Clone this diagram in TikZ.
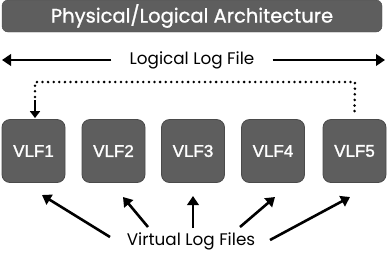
\documentclass[tikz,border=0pt]{standalone}
\usepackage{fontspec}
\setmainfont{Poppins}
\newfontfamily\boxfont[FakeBold=1.6]{Liberation Sans}
\newfontfamily\titlefont[FakeBold=1]{Poppins}
\usetikzlibrary{arrows.meta,calc}
\definecolor{boxgray}{HTML}{5E5E5E}
\definecolor{boxedge}{HTML}{4A4A4A}
\tikzset{
  vlfbox/.style={draw=boxedge,line width=0.8pt,fill=boxgray,rounded corners=8pt,
    minimum width=63pt,minimum height=63pt,inner sep=0pt,text=white,
    font=\boxfont\fontsize{17}{17}\selectfont},
  lbl/.style={font=\fontsize{16.8}{17}\selectfont,inner sep=0pt,text=black},
  arr/.style={line width=2.6pt,-{Triangle[length=9pt,width=11.5pt]}},
  dotline/.style={line width=2.8pt,line cap=round,dash pattern=on 0pt off 5.6pt}
}
\begin{document}
\begin{tikzpicture}[x=1pt,y=-1pt]
\useasboundingbox (0,0) rectangle (387,258);
% title bar
\node[draw=boxedge,fill=boxgray,rounded corners=6pt,minimum width=380pt,minimum height=32pt,
  inner sep=0pt,text=white,font=\titlefont\fontsize{19.5}{20}\selectfont] (title) at (192,16) {Physical/Logical Architecture};
% logical log file
\node[lbl] (lf) at (192,60) {Logical Log File};
\coordinate (lend) at (2,60);
\coordinate (rend) at (385,60);
\draw[arr] ([xshift=-18pt]lf.west) -- (lend);
\draw[arr] ([xshift=18pt]lf.east) -- (rend);
% boxes
\node[vlfbox] (v1) at (33.5,151) {VLF1};
\node[vlfbox] (v2) at (113.5,151) {VLF2};
\node[vlfbox] (v3) at (193,151) {VLF3};
\node[vlfbox] (v4) at (273,151) {VLF4};
\node[vlfbox] (v5) at (354.5,151) {VLF5};
% dotted connector
\coordinate (dtop) at (355,82);
\draw[dotline] ([yshift=8pt]v5.north) -- (dtop) -- (35,82) -- (35,100);
\draw[line width=2.2pt,-{Triangle[length=7pt,width=10pt]}] (35,100) -- ([xshift=1.5pt,yshift=1pt]v1.north);
% virtual log files
\node[lbl] (vl) at (191,241) {Virtual Log Files};
\coordinate (t1) at (42,195);
\coordinate (t2) at (123,197);
\coordinate (t3) at (193,196);
\coordinate (t4) at (275,197);
\coordinate (t5) at (350,197);
\draw[arr] (110,237) -- (t1);
\draw[arr] (148,227) -- (t2);
\draw[arr] (193,228) -- (t3);
\draw[arr] (240,227) -- (t4);
\draw[arr] (270,240) -- (t5);
\end{tikzpicture}
\end{document}
